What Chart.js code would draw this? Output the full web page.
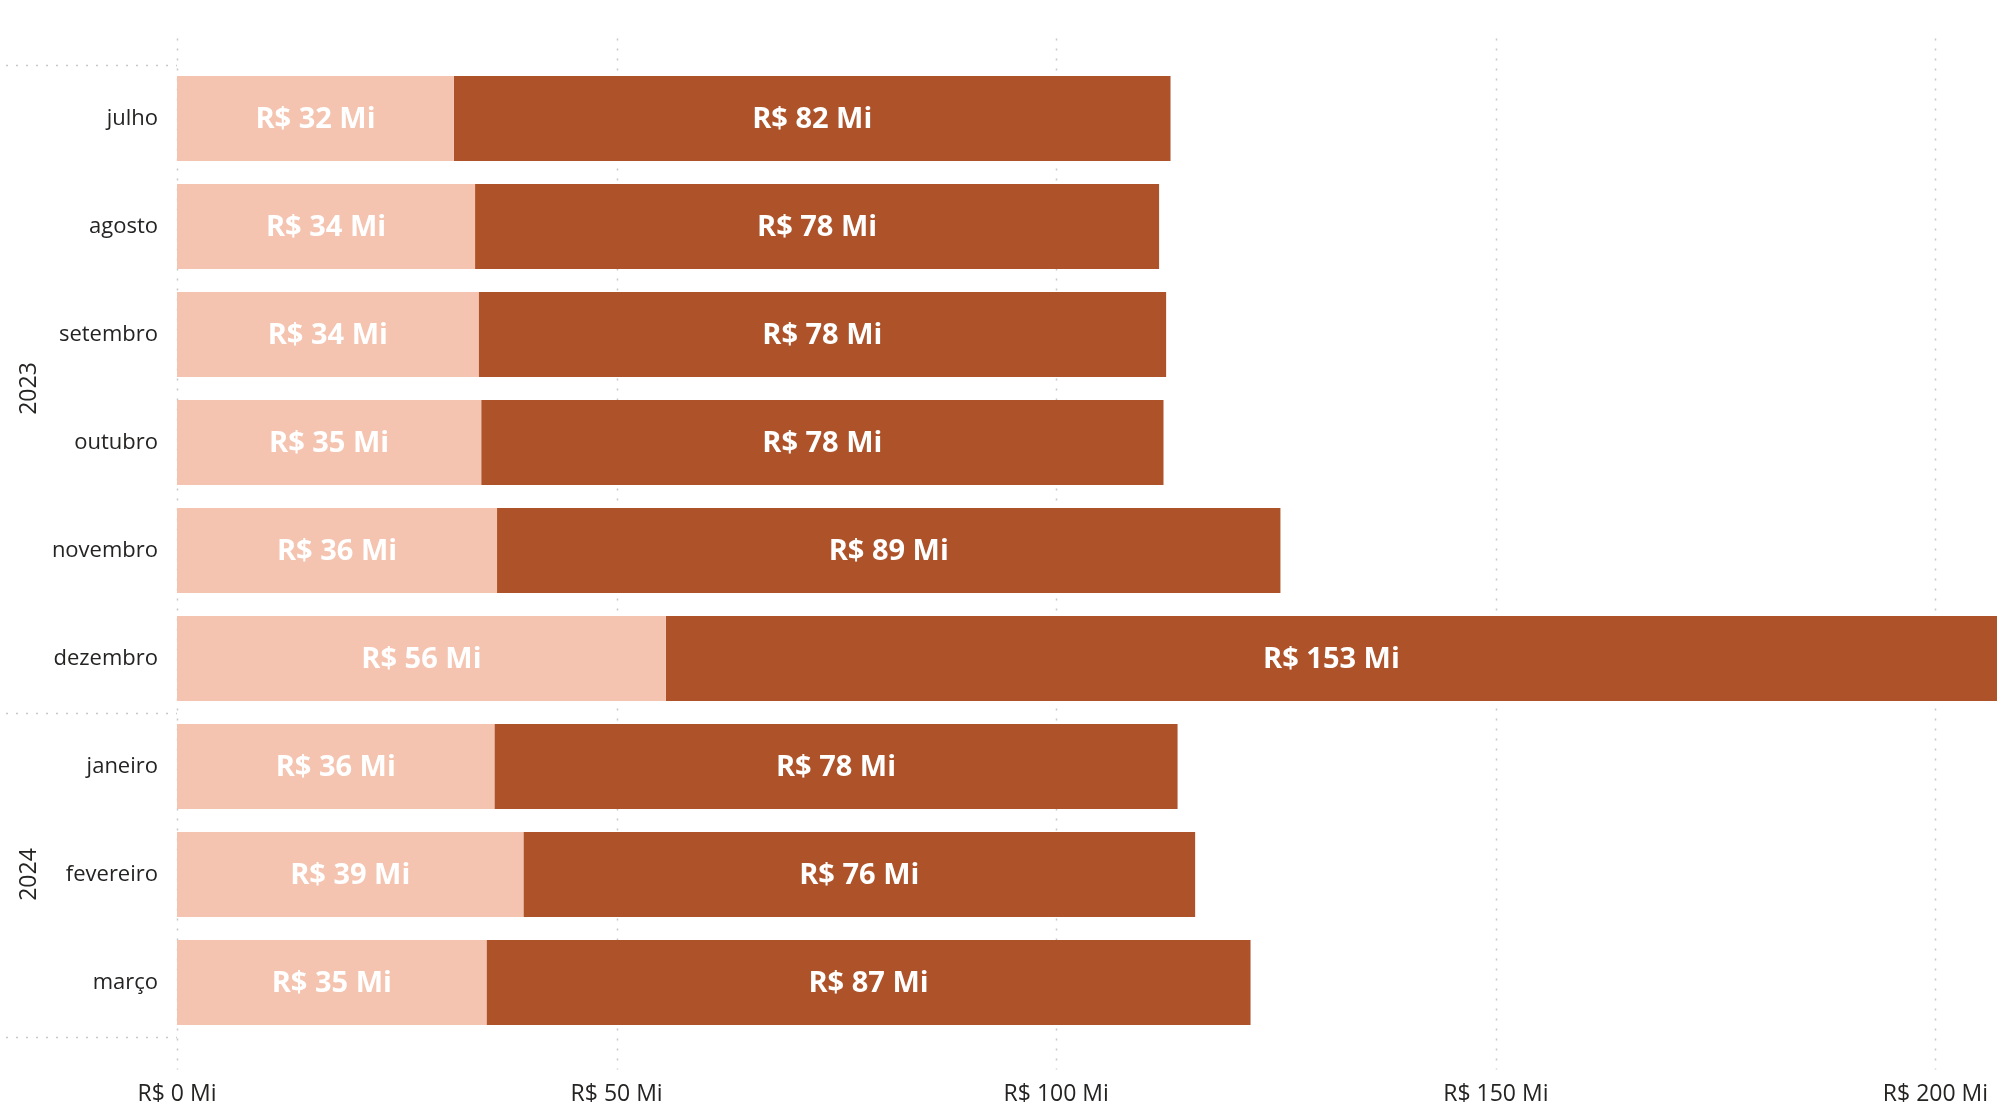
<!DOCTYPE html>
<html lang="pt-BR">
<head>
<meta charset="utf-8">
<title>Valores mensais</title>
<script src="https://cdn.jsdelivr.net/npm/chart.js@4.4.1/dist/chart.umd.min.js"></script>
<style>
    html, body { margin: 0; padding: 0; background: #ffffff; }
    #wrap { width: 1997px; height: 1102px; position: relative; }
</style>
</head>
<body>
<div id="wrap"><canvas id="myBarChart"></canvas></div>
<script>
// values (R$ millions)
const months = ['julho', 'agosto', 'setembro', 'outubro', 'novembro', 'dezembro', 'janeiro', 'fevereiro', 'março'];
const years = ['2023', '2024'];
const yearSpans = [6, 3];
const lightValues = [31.5, 33.9, 34.3, 34.6, 36.4, 55.6, 36.1, 39.4, 35.2];
const darkValues = [81.5, 77.8, 78.2, 77.6, 89.1, 152.8, 77.7, 76.4, 86.9];
const xTicks = [0, 50, 100, 150, 200];
const xMax = 207;

const textColor = '#252423';
const gridColor = '#c8c8c8';
const fontFamily = '"Open Sans", "Noto Sans", sans-serif';

function fmt(v) {
    return 'R$ ' + Math.round(v) + ' Mi';
}

// dotted vertical grid, drawn a bit past the plot area like the original
const gridPlugin = {
    id: 'dottedGrid',
    beforeDatasetsDraw(chart) {
        const ctx = chart.ctx;
        const area = chart.chartArea;
        const x = chart.scales.x;
        ctx.save();
        ctx.strokeStyle = gridColor;
        ctx.lineWidth = 1.5;
        ctx.setLineDash([2, 8]);
        xTicks.forEach(t => {
            const px = Math.round(x.getPixelForValue(t)) + 0.5;
            ctx.beginPath();
            ctx.moveTo(px, area.top - 26);
            ctx.lineTo(px, area.bottom + 33);
            ctx.stroke();
        });
        ctx.restore();
    }
};

// year labels and group separators on the left
const yearPlugin = {
    id: 'yearGroups',
    afterDraw(chart) {
        const ctx = chart.ctx;
        const y = chart.scales.y;
        const left = chart.chartArea.left;
        const half = (y.getPixelForValue(1) - y.getPixelForValue(0)) / 2;
        ctx.save();
        ctx.strokeStyle = gridColor;
        ctx.lineWidth = 1.5;
        ctx.setLineDash([2, 8]);
        let start = 0;
        const bounds = [y.getPixelForValue(0) - half];
        yearSpans.forEach(n => {
            start += n;
            bounds.push(y.getPixelForValue(start - 1) + half);
        });
        bounds.forEach(b => {
            const py = Math.round(b) + 0.5;
            ctx.beginPath();
            ctx.moveTo(6, py);
            ctx.lineTo(left, py);
            ctx.stroke();
        });
        ctx.setLineDash([]);
        ctx.fillStyle = textColor;
        ctx.font = '23px ' + fontFamily;
        ctx.textAlign = 'center';
        ctx.textBaseline = 'middle';
        years.forEach((yr, i) => {
            const cy = (bounds[i] + bounds[i + 1]) / 2;
            ctx.save();
            ctx.translate(29, cy);
            ctx.rotate(-Math.PI / 2);
            ctx.fillText(yr, 0, 0);
            ctx.restore();
        });
        ctx.restore();
    }
};

// value labels centred in each visible segment
const labelPlugin = {
    id: 'segmentLabels',
    afterDatasetsDraw(chart) {
        const ctx = chart.ctx;
        const area = chart.chartArea;
        ctx.save();
        ctx.fillStyle = '#ffffff';
        ctx.font = 'bold 29px ' + fontFamily;
        ctx.textAlign = 'center';
        ctx.textBaseline = 'middle';
        chart.data.datasets.forEach((ds, di) => {
            const meta = chart.getDatasetMeta(di);
            meta.data.forEach((bar, i) => {
                const x1 = Math.max(Math.min(bar.base, bar.x), area.left);
                const x2 = Math.min(Math.max(bar.base, bar.x), area.right);
                ctx.fillText(fmt(ds.data[i]), (x1 + x2) / 2, bar.y + 1);
            });
        });
        ctx.restore();
    }
};

document.addEventListener('DOMContentLoaded', function() {
    var ctx = document.getElementById('myBarChart');
    new Chart(ctx, {
        type: 'bar',
        data: {
            labels: months,
            datasets: [
                {
                    label: 'Parcela 1',
                    backgroundColor: '#f4c4b0',
                    data: lightValues
                },
                {
                    label: 'Parcela 2',
                    backgroundColor: '#ad5229',
                    data: darkValues
                }
            ]
        },
        options: {
            indexAxis: 'y',
            responsive: true,
            maintainAspectRatio: false,
            animation: false,
            devicePixelRatio: 1,
            layout: { padding: { left: 0, right: 0, top: 64.5, bottom: 0 } },
            datasets: {
                bar: { barPercentage: 0.787, categoryPercentage: 1 }
            },
            scales: {
                x: {
                    stacked: true,
                    min: 0,
                    max: xMax,
                    border: { display: false },
                    grid: { display: false, drawTicks: false },
                    afterBuildTicks: scale => {
                        scale.ticks = xTicks.map(v => ({ value: v }));
                    },
                    afterFit: scale => {
                        scale.height = 65.5;
                        scale.paddingLeft = 0;
                        scale.paddingRight = 0;
                    },
                    ticks: {
                        padding: 46,
                        color: textColor,
                        maxRotation: 0,
                        autoSkip: false,
                        font: { family: fontFamily, size: 23, lineHeight: 1 },
                        callback: v => fmt(v)
                    }
                },
                y: {
                    stacked: true,
                    border: { display: false },
                    grid: { display: false, drawTicks: false },
                    afterFit: scale => {
                        scale.width = 177;
                        scale.paddingTop = 0;
                        scale.paddingBottom = 0;
                    },
                    ticks: {
                        padding: 19,
                        color: textColor,
                        font: { family: fontFamily, size: 22 }
                    }
                }
            },
            plugins: {
                legend: { display: false },
                tooltip: { enabled: false }
            }
        },
        plugins: [gridPlugin, yearPlugin, labelPlugin]
    });
});
</script>
</body>
</html>
